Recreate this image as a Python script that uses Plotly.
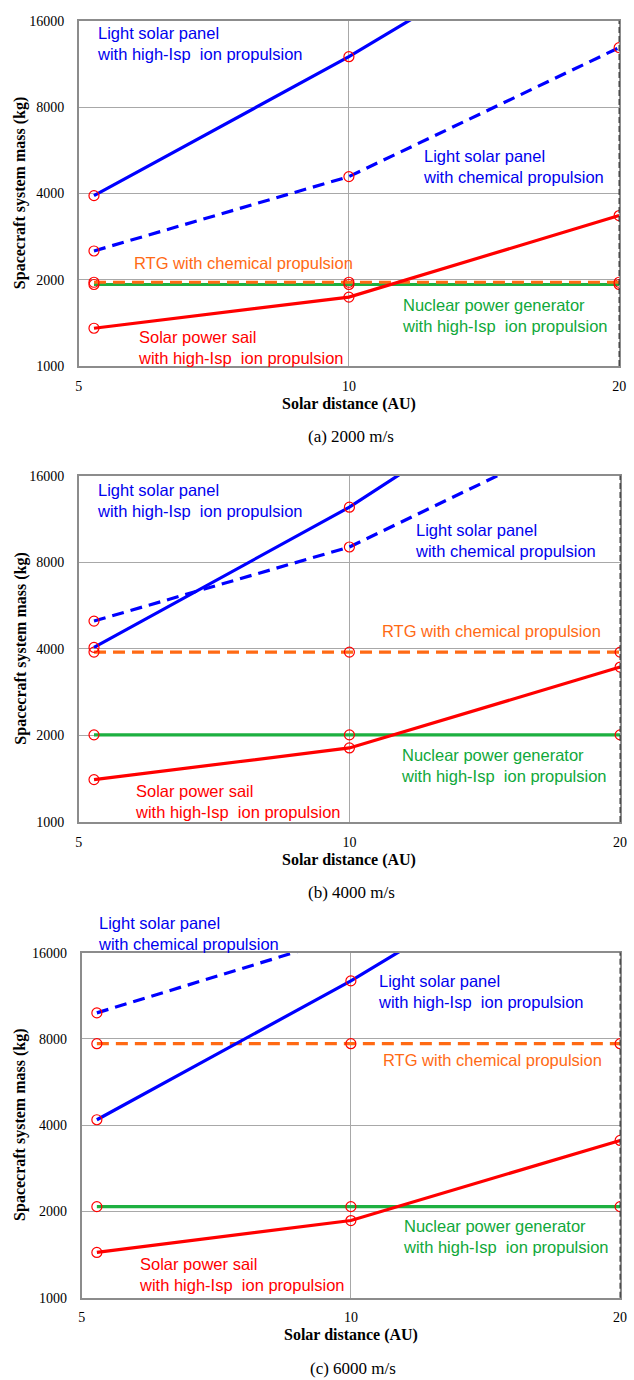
import plotly.graph_objects as go

# ---------------- data ----------------
distance_au = [5.2, 10, 20]

# (a) 2000 m/s
ion_a = [3930, 12000, 44000]
chem_a = [2520, 4580, 12900]
rtg_a = [1960, 1960, 1960]
nuc_a = [1925, 1925, 1925]
sail_a = [1355, 1740, 3350]

# (b) 4000 m/s
ion_b = [4050, 12450, 51000]
chem_b = [5000, 9050, 25700]
rtg_b = [3900, 3900, 3900]
nuc_b = [2010, 2010, 2010]
sail_b = [1405, 1810, 3460]

# (c) 6000 m/s
ion_c = [4180, 12750, 47000]
chem_c = [9860, 18400, 34000]
rtg_c = [7700, 7700, 7700]
nuc_c = [2080, 2080, 2080]
sail_c = [1440, 1860, 3540]

captions = ["(a) 2000 m/s", "(b) 4000 m/s", "(c) 6000 m/s"]
y_ticks = [1000, 2000, 4000, 8000, 16000]
x_ticks = [5, 10, 20]

# ---------------- styling ----------------
W, H = 634, 1380
BLUE = "#0000FF"
RED = "#FF0000"
GREEN = "#1DB040"
ORANGE = "#FF6A14"
TXT_BLUE = "#0000EE"
TXT_RED = "#FF0000"
TXT_GREEN = "#10A83A"
TXT_ORANGE = "#FF6A14"
SANS = "Liberation Sans, Arial, sans-serif"
SERIF = "Liberation Serif, Times New Roman, serif"

# panel pixel boxes: (left, right, top, bottom)
boxes = [(76, 626, 14, 363), (76, 627, 474, 824), (79, 627, 956, 1305)]

def px(x):
    return x / W

def py(y):
    return 1 - y / H

fig = go.Figure()

panels = [
    (ion_a, chem_a, rtg_a, nuc_a, sail_a),
    (ion_b, chem_b, rtg_b, nuc_b, sail_b),
    (ion_c, chem_c, rtg_c, nuc_c, sail_c),
]

marker = dict(symbol="circle-open", size=10, color=RED, line=dict(width=1.2, color=RED))

for i, (ion, chem, rtg, nuc, sail) in enumerate(panels):
    xa = "x" if i == 0 else f"x{i+1}"
    ya = "y" if i == 0 else f"y{i+1}"
    series = [
        (nuc, GREEN, "solid"),
        (rtg, ORANGE, "12px,7px"),
        (sail, RED, "solid"),
        (chem, BLUE, "12px,7px"),
        (ion, BLUE, "solid"),
    ]
    for vals, col, dash in series:
        fig.add_trace(go.Scatter(
            x=distance_au, y=vals, mode="lines+markers", xaxis=xa, yaxis=ya,
            line=dict(color=col, width=3.2, dash=dash),
            marker=marker, showlegend=False, hoverinfo="skip",
        ))

layout = dict(
    width=W, height=H, margin=dict(l=0, r=0, t=0, b=0),
    paper_bgcolor="white", plot_bgcolor="white", showlegend=False,
)

for i, (l, r, t, b) in enumerate(boxes):
    xk = "xaxis" if i == 0 else f"xaxis{i+1}"
    yk = "yaxis" if i == 0 else f"yaxis{i+1}"
    ya = "y" if i == 0 else f"y{i+1}"
    xa = "x" if i == 0 else f"x{i+1}"
    layout[xk] = dict(
        type="log", range=[0.69897, 1.30103], domain=[px(l), px(r)], anchor=ya,
        tickvals=x_ticks, ticktext=[str(v) for v in x_ticks],
        tickfont=dict(family=SERIF, size=14, color="black"),
        showgrid=True, gridcolor="#A8A8A8", gridwidth=1,
        showline=True, linecolor="#8C8C8C", linewidth=1.5, mirror=True,
        ticks="", zeroline=False, ticklabelstandoff=6,
    )
    layout[yk] = dict(
        type="log", range=[3.0, 4.20412], domain=[py(b), py(t)], anchor=xa,
        tickvals=y_ticks, ticktext=[str(v) for v in y_ticks],
        tickfont=dict(family=SERIF, size=14, color="black"),
        showgrid=True, gridcolor="#A8A8A8", gridwidth=1,
        showline=True, linecolor="#8C8C8C", linewidth=1.5, mirror=True,
        ticks="", zeroline=False, ticklabelstandoff=10,
    )

fig.update_layout(**layout)

annotations = []
shapes = []

def label(text, x, y, color, size=16.5):
    annotations.append(dict(
        text=text, x=px(x - 3), y=py(y), xref="paper", yref="paper",
        xanchor="left", yanchor="middle", align="left", showarrow=False,
        font=dict(family=SANS, size=size, color=color),
    ))

sp = "&nbsp;"
ion_txt = f"with high-Isp{sp} ion propulsion"

# panel a
label(f"Light solar panel<br>{ion_txt}", 96, 37, TXT_BLUE)
label("Light solar panel<br>with chemical propulsion", 427, 161, TXT_BLUE)
label("RTG with chemical propulsion", 133, 259, TXT_ORANGE)
label(f"Nuclear power generator<br>{ion_txt}", 406, 312, TXT_GREEN)
label(f"Solar power sail<br>{ion_txt}", 137, 344, TXT_RED)

# panel b
label(f"Light solar panel<br>{ion_txt}", 96, 499, TXT_BLUE)
label("Light solar panel<br>with chemical propulsion", 419, 539, TXT_BLUE)
label("RTG with chemical propulsion", 386, 631, TXT_ORANGE)
label(f"Nuclear power generator<br>{ion_txt}", 405, 767, TXT_GREEN)
label(f"Solar power sail<br>{ion_txt}", 134, 803, TXT_RED)

# panel c
label("Light solar panel<br>with chemical propulsion", 97, 937, TXT_BLUE)
label(f"Light solar panel<br>{ion_txt}", 382, 995, TXT_BLUE)
label("RTG with chemical propulsion", 387, 1065, TXT_ORANGE)
label(f"Nuclear power generator<br>{ion_txt}", 407, 1243, TXT_GREEN)
label(f"Solar power sail<br>{ion_txt}", 138, 1281, TXT_RED)

for i, (l, r, t, b) in enumerate(boxes):
    cx = (l + r) / 2
    # axis titles
    annotations.append(dict(
        text="<b>Solar distance (AU)</b>", x=px(cx), y=py(b + 38), xref="paper", yref="paper",
        xanchor="center", yanchor="middle", showarrow=False,
        font=dict(family=SERIF, size=16, color="black"),
    ))
    annotations.append(dict(
        text="<b>Spacecraft system mass (kg)</b>", x=px(17), y=py((t + b) / 2), xref="paper", yref="paper",
        xanchor="center", yanchor="middle", showarrow=False, textangle=-90,
        font=dict(family=SERIF, size=16, color="black"),
    ))
    annotations.append(dict(
        text=captions[i], x=px(cx + 2), y=py(b + 71), xref="paper", yref="paper",
        xanchor="center", yanchor="middle", showarrow=False,
        font=dict(family=SERIF, size=17, color="black"),
    ))
    # dark dotted right frame edge
    shapes.append(dict(
        type="line", xref="paper", yref="paper", x0=px(r), x1=px(r), y0=py(b), y1=py(t),
        line=dict(color="#333333", width=1.2, dash="6px,3px"),
    ))

fig.update_layout(annotations=annotations, shapes=shapes)

post = (
    "document.documentElement.style.margin='0';"
    "document.documentElement.style.padding='0';"
    "document.documentElement.style.overflow='hidden';"
    "document.body.style.margin='0';"
    "document.body.style.padding='0';"
    "document.body.style.overflow='hidden';"
    "var d=document.getElementById('{plot_id}');"
    "d.style.position='absolute';d.style.left='0px';d.style.top='0px';"
)

fig.write_html("out.html", config={"displayModeBar": False}, post_script=post)
